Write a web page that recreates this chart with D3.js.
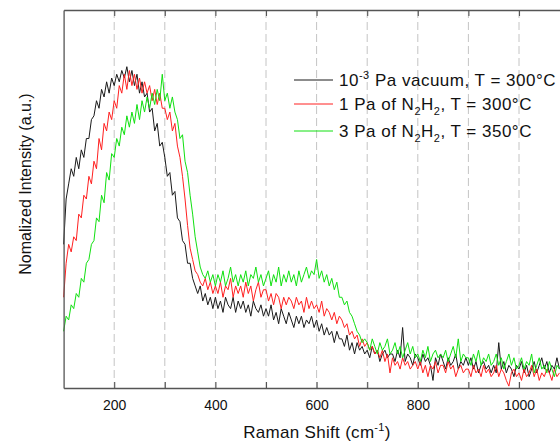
<!DOCTYPE html>
<html><head><meta charset="utf-8">
<script src="https://cdn.jsdelivr.net/npm/d3@7"></script>
<style>body{margin:0;background:#fff}svg{display:block}</style>
</head><body><svg id="c" width="560" height="441"></svg>
<script>
// Raman shift sampling (cm^-1)
const shiftStart = 100, shiftStep = 5;
// 10^-3 Pa vacuum, T = 300°C
const vacuum300 = [
 38,50,54,58,56,61,58,63,61,66,
 66,71,72,76,74,79,77,81,78,82,
 80,83,81,84,82,85,81,84,80,83,
 78,81,77,78,73,74,68,70,64,65,
 61,56,57,51,52,45,44,39,38,33,
 33,29,27,25,27,23,25,22,24,21,
 24,21,23,20,24,22,21,24,20,23,
 21,23,20,22,19,23,21,20,22,19,
 21,19,22,18,20,17,21,19,17,20,
 18,16,19,17,19,16,18,17,19,16,
 18,15,17,14,16,14,15,12,15,13,
 13,11,14,10,12,9,12,10,11,9,
 10,8,11,9,10,7,9,10,8,9,
 9,7,10,8,16,7,9,8,6,9,
 8,6,9,7,8,6,2,8,6,9,
 7,5,8,6,7,9,5,7,6,8,
 6,8,5,7,4,6,7,5,6,4,
 6,4,12,5,7,4,6,5,3,6,
 5,7,4,6,3,5,7,4,6,8,
 5,7,4,6,5,8,5
];
// 1 Pa of N2H2, T = 300°C
const n2h2_1Pa = [
 24,33,38,36,40,39,46,45,51,50,
 56,54,60,58,66,63,70,68,73,71,
 76,74,80,78,83,79,84,80,83,79,
 82,78,81,78,80,76,79,75,78,74,
 74,71,73,68,70,64,61,56,50,43,
 37,34,31,30,28,27,29,26,28,25,
 27,25,28,24,27,26,29,24,27,25,
 27,24,28,25,27,23,26,28,24,26,
 26,23,25,22,25,24,21,24,22,24,
 23,21,24,22,23,20,24,21,23,21,
 22,20,23,19,21,20,18,20,17,19,
 18,16,17,14,15,13,14,11,13,11,
 12,10,11,9,10,8,10,7,9,4,
 8,6,7,5,8,6,7,5,6,7,
 5,7,4,6,3,6,5,7,4,6,
 6,4,7,5,6,3,5,6,4,5,
 5,3,6,4,5,3,6,4,5,3,
 4,6,3,5,4,2,0.5,4,5,3,
 4,2,5,3,4,6,3,5,2,4,
 3,5,4,2,5,3,4
];
// 3 Pa of N2H2, T = 350°C
const n2h2_3Pa = [
 15,19,18,22,21,25,24,29,28,33,
 34,38,39,45,44,51,49,57,55,62,
 61,66,64,69,67,72,69,73,70,75,
 71,76,73,77,74,78,75,79,76,83,
 76,78,74,77,73,71,66,67,60,57,
 51,46,40,36,32,30,29,31,28,30,
 27,30,28,31,27,29,32,28,30,27,
 30,28,31,27,30,29,32,28,30,27,
 29,31,27,30,28,32,27,30,28,31,
 28,30,27,31,28,30,32,29,31,30,
 34,29,31,28,30,27,29,26,28,24,
 24,22,23,20,19,17,15,14,12,13,
 12,10,13,11,9,12,10,11,13,9,
 10,12,9,11,8,10,12,9,11,8,
 9,7,10,8,11,7,9,10,8,9,
 8,10,7,9,11,8,13,7,9,8,
 8,6,9,7,10,6,8,7,9,6,
 7,9,6,8,5,7,9,6,8,5,
 6,8,5,7,6,9,4,6,8,5,
 6,4,7,5,3,6,5
];
const seriesColors = ["#1a1a1a", "#ff2020", "#10e010"];
const gridTicks = [200,300,400,500,600,700,800,900,1000,1100];
const labelTicks = [200,400,600,800,1000];
const xDomain = [100, 1100];
const yDomain = [0, 100];

const svg = d3.select("#c");
const L = 63.6, R = 569.6, T = 10, B = 388;
const x = d3.scaleLinear().domain(xDomain).range([L, R]);
const y = d3.scaleLinear().domain(yDomain).range([B, T]);

// grid
svg.append("g").selectAll("line").data(gridTicks).join("line")
  .attr("x1", d => x(d)).attr("x2", d => x(d)).attr("y1", T).attr("y2", B)
  .attr("stroke", "#c4c4c4").attr("stroke-width", 1).attr("stroke-dasharray", "8,4");

const font = "'Liberation Sans', Arial, sans-serif";
const data = [vacuum300, n2h2_1Pa, n2h2_3Pa];
const line = d3.line().x((d, i) => x(shiftStart + i * shiftStep)).y(d => y(d));
svg.append("g").selectAll("path").data(data).join("path")
  .attr("d", d => line(d)).attr("fill", "none")
  .attr("stroke", (d, i) => seriesColors[i]).attr("stroke-width", 1)
  .attr("stroke-linejoin", "round");

// axes
const xb = d3.axisBottom(x).tickValues(gridTicks).tickSizeInner(-6).tickSizeOuter(0)
  .tickPadding(12).tickFormat(d => labelTicks.includes(d) ? d : "");
const gb = svg.append("g").attr("transform", `translate(0,${B})`).call(xb);
const xt = d3.axisTop(x).tickValues(gridTicks).tickSizeInner(-6).tickSizeOuter(0).tickFormat("");
const gt = svg.append("g").attr("transform", `translate(0,${T})`).call(xt);
const yl = d3.axisLeft(y).tickValues([]).tickSizeOuter(0);
const gl = svg.append("g").attr("transform", `translate(${L},0)`).call(yl);
[gb, gt, gl].forEach(g => {
  g.select(".domain").attr("stroke", "#555").attr("stroke-width", 1.3);
  g.selectAll(".tick line").attr("stroke", "#555").attr("stroke-width", 1.1);
});
gb.selectAll(".tick text").attr("font-family", font).attr("font-size", 14).attr("fill", "#111");

// axis titles
const xtitle = svg.append("text").attr("x", 317).attr("y", 438).attr("text-anchor", "middle")
  .attr("font-family", font).attr("font-size", 17).attr("letter-spacing", 0.3).attr("fill", "#111");
xtitle.append("tspan").text("Raman Shift (cm");
xtitle.append("tspan").attr("dy", -7).attr("font-size", 11).text("-1");
xtitle.append("tspan").attr("dy", 7).text(")");

svg.append("text").attr("transform", "translate(31,184) rotate(-90)").attr("text-anchor", "middle")
  .attr("font-family", font).attr("font-size", 16).attr("fill", "#111")
  .text("Nomalized Intensity (a.u.)");

// legend
const legendY = [80, 104, 131];
const lg = svg.append("g");
legendY.forEach((ly, i) => {
  lg.append("line").attr("x1", 294).attr("x2", 333).attr("y1", ly).attr("y2", ly)
    .attr("stroke", seriesColors[i]).attr("stroke-width", 1);
});
function leg(i, parts) {
  const t = lg.append("text").attr("x", 339).attr("y", legendY[i] + 6)
    .attr("font-family", font).attr("font-size", 17).attr("letter-spacing", 0.5).attr("fill", "#111");
  parts.forEach(p => {
    const s = t.append("tspan").text(p[0]);
    if (p[1]) s.attr("dy", p[1]);
    if (p[2]) s.attr("font-size", p[2]);
  });
}
leg(0, [["10"], ["-3", -7, 11], [" Pa vacuum, T = 300°C", 7]]);
leg(1, [["1 Pa of N"], ["2", 5, 11], ["H", -5], ["2", 5, 11], [",", -5], [" T = 300°C"]]);
leg(2, [["3 Pa of N"], ["2", 5, 11], ["H", -5], ["2", 5, 11], [",", -5], [" T = 350°C"]]);
</script></body></html>
